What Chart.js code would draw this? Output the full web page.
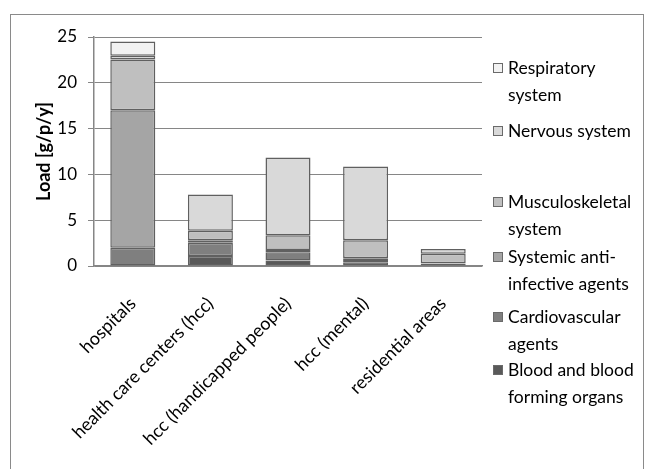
<!DOCTYPE html>
<html>
<head>
<meta charset="utf-8">
<script src="https://cdn.jsdelivr.net/npm/chart.js@4"></script>
<style>
  html, body { margin: 0; padding: 0; background: #fff; }
  #wrap { position: relative; width: 646px; height: 469px; }
  #legend { position: absolute; left: 0; top: 0; font-family: Lato, sans-serif; font-size: 17.5px; color: #000; }
  .item { position: absolute; left: 493px; line-height: 27px; }
  .item .box { position: absolute; left: 0; top: 9px; width: 8px; height: 8px; border: 1px solid #6a6a6a; }
  .item .txt { position: absolute; left: 15px; top: 0; white-space: nowrap; }
</style>
</head>
<body>
<div id="wrap">
  <canvas id="c" width="646" height="469"></canvas>
  <div id="legend"></div>
</div>
<script>
// sites and loads per therapeutic group, g per person per year
const categories = ['hospitals', 'health care centers (hcc)', 'hcc (handicapped people)', 'hcc (mental)', 'residential areas'];
const blood       = [0,    1.1,  0.6,  0.4,  0.1];
const cardio      = [2.0,  1.45, 0.9,  0.25, 0.15];
const systemic    = [15.0, 0.25, 0.25, 0.2,  0.05];
const musculo     = [5.55, 1.05, 1.6,  1.95, 1.05];
const nervous     = [0.4,  3.95, 8.5,  8.05, 0.5];
const respiratory = [1.55, 0,    0,    0,    0];
const yTicks = [0, 5, 10, 15, 20, 25];

// bottom-up stacking order, legend reads top-down
const series = [
    { label: ['Blood and blood', 'forming organs'], data: blood,       color: '#595959' },
    { label: ['Cardiovascular', 'agents'],          data: cardio,      color: '#7f7f7f' },
    { label: ['Systemic anti-', 'infective agents'], data: systemic,   color: '#a5a5a5' },
    { label: ['Musculoskeletal', 'system'],         data: musculo,     color: '#bfbfbf' },
    { label: ['Nervous system'],                    data: nervous,     color: '#d9d9d9' },
    { label: ['Respiratory', 'system'],             data: respiratory, color: '#f2f2f2' }
];

const FONT = 'Lato, sans-serif';
const GRID = '#868686';

// outer frame around the whole chart
const framePlugin = {
    id: 'frame',
    beforeDraw(chart) {
        const ctx = chart.ctx;
        ctx.save();
        ctx.strokeStyle = '#8a8a8a';
        ctx.lineWidth = 1;
        ctx.strokeRect(10.5, 14.5, 633, 480);
        ctx.restore();
    }
};

new Chart(document.getElementById('c'), {
    type: 'bar',
    data: {
        labels: categories,
        datasets: series.map(s => ({
            label: s.label.join(' '),
            data: s.data,
            backgroundColor: s.color,
            borderColor: '#606060',
            borderWidth: 1.5,
            borderSkipped: false,
            barPercentage: 0.58,
            categoryPercentage: 1
        }))
    },
    options: {
        responsive: false,
        animation: false,
        layout: { padding: { top: 37, right: 164, left: 0, bottom: 0 } },
        plugins: { legend: { display: false }, tooltip: { enabled: false } },
        scales: {
            x: {
                stacked: true,
                grid: { display: false },
                border: { display: true, color: GRID, width: 1.5 },
                ticks: {
                    color: '#000', font: { family: FONT, size: 18 },
                    minRotation: 45, maxRotation: 45, autoSkip: false, padding: 19
                },
                afterFit(s) { s.height = 203; }
            },
            y: {
                stacked: true,
                min: 0, max: 25,
                afterBuildTicks(s) { s.ticks = yTicks.map(v => ({ value: v })); },
                grid: { color: GRID, lineWidth: 1, tickLength: 6 },
                border: { display: true, color: GRID, width: 1.5 },
                ticks: { color: '#000', font: { family: FONT, size: 17 }, padding: 11 },
                title: {
                    display: true, text: 'Load [g/p/y]', color: '#000',
                    font: { family: FONT, size: 18, weight: 'bold' },
                    padding: { top: 33, bottom: 0 }
                },
                afterFit(s) { s.width = 94; }
            }
        }
    },
    plugins: [framePlugin]
});

// legend entries, top-down, with their first-line offsets
const legendTops = [54, 117, 188, 243, 303, 356];
const legend = document.getElementById('legend');
series.slice().reverse().forEach((s, i) => {
    const item = document.createElement('div');
    item.className = 'item';
    item.style.top = legendTops[i] + 'px';
    const box = document.createElement('div');
    box.className = 'box';
    box.style.background = s.color;
    const txt = document.createElement('div');
    txt.className = 'txt';
    txt.innerHTML = s.label.join('<br>');
    item.appendChild(box);
    item.appendChild(txt);
    legend.appendChild(item);
});
</script>
</body>
</html>
